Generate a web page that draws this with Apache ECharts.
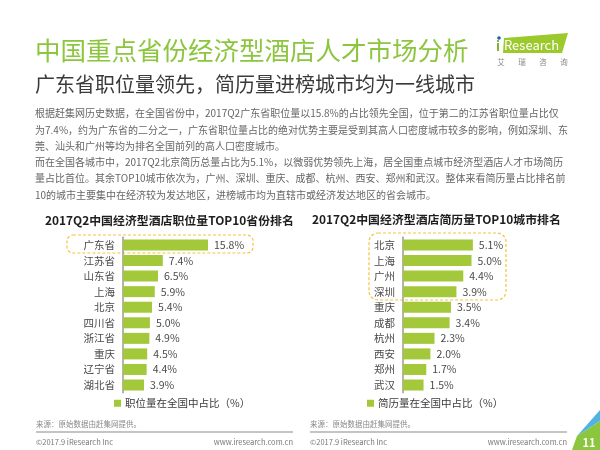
<!DOCTYPE html>
<html lang="zh-CN">
<head>
<meta charset="UTF-8">
<title>中国重点省份经济型酒店人才市场分析</title>
<script src="https://cdn.jsdelivr.net/npm/echarts@6/dist/echarts.min.js"></script>
<style>
  html, body { margin: 0; padding: 0; background: #fff; }
  #chart { width: 600px; height: 450px; }
</style>
</head>
<body>
<div id="chart"></div>
<script>
// 左图：职位量TOP10省份
var provinces = ['广东省', '江苏省', '山东省', '上海', '北京', '四川省', '浙江省', '重庆', '辽宁省', '湖北省'];
var provinceShare = [15.8, 7.4, 6.5, 5.9, 5.4, 5.0, 4.9, 4.5, 4.4, 3.9];
// 右图：简历量TOP10城市
var cities = ['北京', '上海', '广州', '深圳', '重庆', '成都', '杭州', '西安', '郑州', '武汉'];
var cityShare = [5.1, 5.0, 4.4, 3.9, 3.5, 3.4, 2.3, 2.0, 1.7, 1.5];

var pageTitle = '中国重点省份经济型酒店人才市场分析';
var pageSubtitle = '广东省职位量领先，简历量进榜城市均为一线城市';
var bodyLines = [
  '根据赶集网历史数据，在全国省份中，2017Q2广东省职位量以15.8%的占比领先全国，位于第二的江苏省职位量占比仅',
  '为7.4%，约为广东省的二分之一，广东省职位量占比的绝对优势主要是受到其高人口密度城市较多的影响，例如深圳、东',
  '莞、汕头和广州等均为排名全国前列的高人口密度城市。',
  '而在全国各城市中，2017Q2北京简历总量占比为5.1%，以微弱优势领先上海，居全国重点城市经济型酒店人才市场简历',
  '量占比首位。其余TOP10城市依次为，广州、深圳、重庆、成都、杭州、西安、郑州和武汉。整体来看简历量占比排名前',
  '10的城市主要集中在经济较为发达地区，进榜城市均为直辖市或经济发达地区的省会城市。'
];
var chartTitles = ['2017Q2中国经济型酒店职位量TOP10省份排名', '2017Q2中国经济型酒店简历量TOP10城市排名'];
var seriesNames = ['职位量在全国中占比（%）', '简历量在全国中占比（%）'];
var logoSub = ['艾', '瑞', '咨', '询'];

var FONT = '"Noto Sans CJK SC", "Noto Sans", sans-serif';
var BAR = '#a3c83a';

var myChart = echarts.init(document.getElementById('chart'));

function txt(text, x, y, size, color, extra) {
  var style = {
    text: text, x: x, y: y,
    fill: color, fontSize: size, fontFamily: FONT,
    textVerticalAlign: 'middle'
  };
  for (var k in extra) style[k] = extra[k];
  return { type: 'text', silent: true, style: style };
}

var dashed = { fill: 'none', stroke: '#f5c33f', lineWidth: 1.2, lineDash: [3, 2] };

var graphics = [
  txt(pageTitle, 35, 50, 25.5, '#8cc63e'),
  txt(pageSubtitle, 35, 84, 20, '#3a3a3a'),
  // logo
  { type: 'polygon', silent: true, shape: { points: [[504, 38], [568, 33], [562, 53], [503, 53]] }, style: { fill: '#9cc92c' } },
  txt('i', 496, 46, 13, '#7fb02a', { fontWeight: 'bold' }),
  { type: 'circle', silent: true, shape: { cx: 499, cy: 38, r: 1.8 }, style: { fill: '#1f5fa8' } },
  txt('Research', 504, 45, 13, '#fff'),
  // 高亮框
  { type: 'rect', silent: true, shape: { x: 67, y: 235, width: 186, height: 18, r: 6 }, style: dashed },
  { type: 'rect', silent: true, shape: { x: 369, y: 233, width: 137, height: 67, r: 9 }, style: dashed },
  txt(chartTitles[0], 45, 220, 11.9, '#1e1e1e', { fontWeight: 'bold' }),
  txt(chartTitles[1], 312, 219, 11.9, '#1e1e1e', { fontWeight: 'bold' }),
  // footers
  txt('来源：原始数据由赶集网提供。', 36, 424, 7.5, '#8a8a8a'),
  txt('来源：原始数据由赶集网提供。', 310, 424, 7.5, '#8a8a8a'),
  { type: 'line', silent: true, shape: { x1: 36, y1: 432, x2: 293, y2: 432 }, style: { stroke: '#c4c4c4', lineWidth: 2 } },
  { type: 'line', silent: true, shape: { x1: 310, y1: 432, x2: 567, y2: 432 }, style: { stroke: '#c4c4c4', lineWidth: 2 } },
  txt('©2017.9 iResearch Inc', 36, 442, 7.5, '#777'),
  txt('www.iresearch.com.cn', 293, 442, 7.5, '#777', { textAlign: 'right' }),
  txt('©2017.9 iResearch Inc', 310, 442, 7.5, '#777'),
  txt('www.iresearch.com.cn', 567, 442, 7.5, '#777', { textAlign: 'right' }),
  // 右下角页码
  { type: 'polygon', silent: true, shape: { points: [[600, 410], [600, 421], [577, 436]] }, style: { fill: '#4fb3e6' } },
  { type: 'polygon', silent: true, shape: { points: [[600, 421], [600, 450], [572, 450], [577, 436]] }, style: { fill: '#8cc63e' } },
  txt('11', 589, 443, 11, '#fff', { fontWeight: 'bold', textAlign: 'center' })
];
for (var i = 0; i < logoSub.length; i++) {
  graphics.push(txt(logoSub[i], 501 + i * 21, 62, 7.5, '#888', { textAlign: 'center' }));
}
for (var j = 0; j < bodyLines.length; j++) {
  graphics.push(txt(bodyLines[j], 35, 113.5 + j * 16.3, 10, '#666'));
}

function valueLabel(p) {
  return p.value.toFixed(1) + '%';
}

function catAxis(idx, data) {
  return {
    type: 'category', gridIndex: idx, data: data, inverse: true,
    axisLine: { show: true, lineStyle: { color: '#9a9a9a', width: 1.5 } },
    axisTick: { show: false },
    axisLabel: { color: '#4a4a4a', fontSize: 10.5, fontFamily: FONT, margin: 8 }
  };
}

function valAxis(idx, max) {
  return {
    type: 'value', gridIndex: idx, min: 0, max: max,
    show: false, splitLine: { show: false }
  };
}

function barSeries(idx, name, data) {
  return {
    type: 'bar', name: name, xAxisIndex: idx, yAxisIndex: idx,
    data: data, barWidth: 11, silent: true,
    itemStyle: { color: BAR },
    label: {
      show: true, position: 'right', distance: 6,
      color: '#4a4a4a', fontSize: 10.5, fontFamily: FONT,
      formatter: valueLabel
    }
  };
}

function legendAt(name, left) {
  return {
    data: [name], left: left, top: 398, padding: 0,
    itemWidth: 7, itemHeight: 7, itemGap: 4, icon: 'rect', selectedMode: false,
    textStyle: { color: '#3a3a3a', fontSize: 10.5, fontFamily: FONT, padding: [0, 0, 0, -1] }
  };
}

options = {
  animation: false,
  textStyle: { fontFamily: FONT },
  grid: [
    { left: 123, top: 237.2, width: 107.6, height: 155.6 },
    { left: 403, top: 237.2, width: 137, height: 155.6 }
  ],
  xAxis: [valAxis(0, 20), valAxis(1, 10)],
  yAxis: [catAxis(0, provinces), catAxis(1, cities)],
  legend: [legendAt(seriesNames[0], 114), legendAt(seriesNames[1], 367)],
  series: [
    barSeries(0, seriesNames[0], provinceShare),
    barSeries(1, seriesNames[1], cityShare)
  ],
  graphic: { elements: graphics }
};

myChart.setOption(options);
</script>
</body>
</html>
